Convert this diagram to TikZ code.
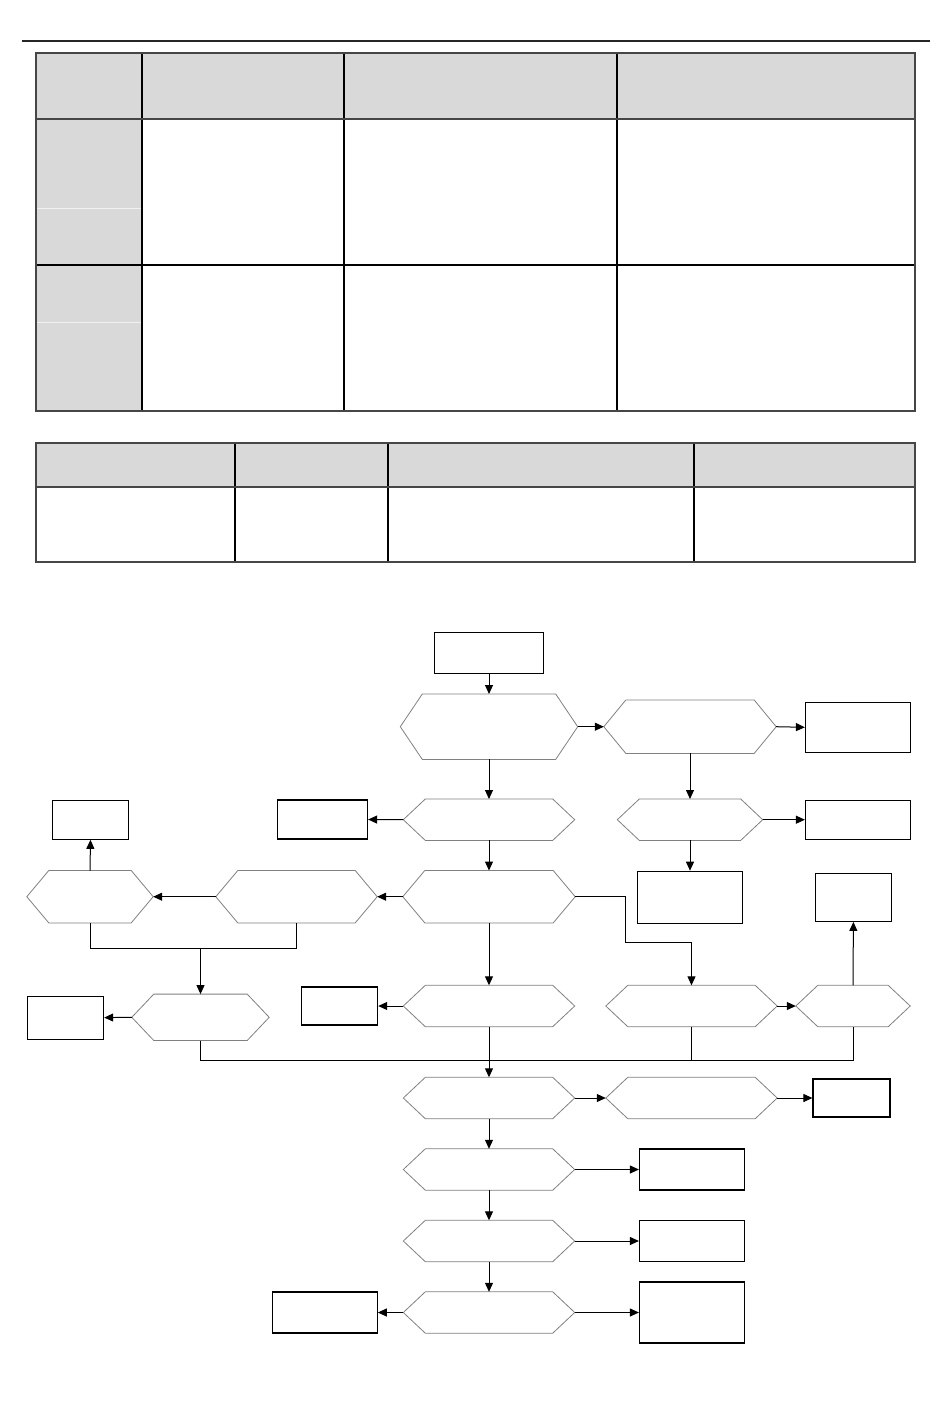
\documentclass[tikz,border=0pt]{standalone}
\usetikzlibrary{arrows.meta}

\definecolor{hdrgray}{RGB}{217,217,217}
\definecolor{hexgray}{RGB}{128,128,128}
\definecolor{rulegray}{RGB}{70,70,70}

\tikzset{
  box/.style={draw, line width=1.2pt, inner sep=0pt},
  hexa/.style={inner sep=0pt},
  hexline/.style={draw=hexgray, line width=0.8pt},
  arr/.style={line width=1pt, -{Triangle[length=9pt,width=8pt]}},
  line/.style={line width=1pt},
}

\begin{document}
\begin{tikzpicture}[x=1pt,y=-1pt]
\useasboundingbox (0,0) rectangle (950,1424);

% top rule
\draw[line width=2.5pt, black!85] (22,41) -- (930,41);

% first table
\fill[hdrgray] (36,53) rectangle (915,119);
\fill[hdrgray] (36,119) rectangle (142,411);
\draw[white!88!gray] (36,208) -- (142,208) (36,322) -- (142,322);
\foreach \x in {142,344,617} \draw[line width=1.5pt] (\x,53) -- (\x,411);
\draw[line width=1.5pt] (36,265) -- (915,265);
\draw[line width=2pt, rulegray] (36,119) -- (915,119);
\draw[line width=2.5pt, rulegray] (36,53) rectangle (915,411);

% second table
\fill[hdrgray] (36,443) rectangle (915,487);
\foreach \x in {235,388,694} \draw[line width=1.5pt] (\x,443) -- (\x,562);
\draw[line width=2pt, rulegray] (36,487) -- (915,487);
\draw[line width=2.5pt, rulegray] (36,443) rectangle (915,562);

% flow chart: decisions
\node[hexa, minimum width=177pt, minimum height=65pt] (h1) at (489,726.7) {};
\node[hexa, minimum width=172pt, minimum height=53pt] (h2) at (690,726.7) {};
\node[hexa, minimum width=171pt, minimum height=41pt] (h3) at (489,819.7) {};
\node[hexa, minimum width=145pt, minimum height=41pt] (h4) at (690,819.7) {};
\node[hexa, minimum width=172pt, minimum height=52pt] (h5) at (489,896.7) {};
\node[hexa, minimum width=161pt, minimum height=52pt] (h6) at (296.5,896.7) {};
\node[hexa, minimum width=126pt, minimum height=52pt] (h7) at (90,896.7) {};
\node[hexa, minimum width=137pt, minimum height=46pt] (h8) at (200.5,1017.3) {};
\node[hexa, minimum width=171pt, minimum height=41pt] (h9) at (489,1006) {};
\node[hexa, minimum width=171pt, minimum height=41pt] (h10) at (691.5,1006) {};
\node[hexa, minimum width=114pt, minimum height=41pt] (h11) at (853,1006) {};
\node[hexa, minimum width=171pt, minimum height=41pt] (h12) at (489,1098) {};
\node[hexa, minimum width=171pt, minimum height=41pt] (h13) at (691.5,1098) {};
\node[hexa, minimum width=171pt, minimum height=41pt] (h14) at (489,1169.5) {};
\node[hexa, minimum width=171pt, minimum height=41pt] (h15) at (489,1241) {};
\node[hexa, minimum width=171pt, minimum height=41pt] (h16) at (489,1312.5) {};
\foreach \i in {1,...,16}
  \draw[hexline] (h\i.west) -- ([xshift=22pt]h\i.north west) -- ([xshift=-22pt]h\i.north east)
    -- (h\i.east) -- ([xshift=-22pt]h\i.south east) -- ([xshift=22pt]h\i.south west) -- cycle;

% flow chart: boxes
\node[box, minimum width=109pt, minimum height=41pt] (b0) at (489,653) {};
\node[box, minimum width=105pt, minimum height=50pt] (b1) at (858,727.3) {};
\node[box, minimum width=90pt, minimum height=39pt] (b2) at (322.5,819.5) {};
\node[box, minimum width=105pt, minimum height=39pt] (b3) at (858,819.7) {};
\node[box, minimum width=105pt, minimum height=52pt] (b4) at (690,897.3) {};
\node[box, minimum width=76pt, minimum height=39pt] (b5) at (90.5,819.7) {};
\node[box, minimum width=76pt, minimum height=48pt] (b6) at (853.4,897.3) {};
\node[box, minimum width=76pt, minimum height=43pt] (b7) at (65.6,1017.6) {};
\node[box, minimum width=76pt, minimum height=38pt] (b8) at (339.6,1006) {};
\node[box, minimum width=77pt, minimum height=38pt] (b9) at (851.5,1098) {};
\node[box, minimum width=105pt, minimum height=41pt] (b10) at (692,1169.5) {};
\node[box, minimum width=105pt, minimum height=41pt] (b11) at (692,1241) {};
\node[box, minimum width=105pt, minimum height=41pt] (b12) at (324.7,1312.5) {};
\node[box, minimum width=105pt, minimum height=61pt] (b13) at (692,1312.5) {};

\coordinate (jn) at (200.5,948.3);
\coordinate (bend) at (625,942.3);
\coordinate (mrg) at (489,1060.3);

% connectors
\draw[arr] (b0) -- (h1);
\draw[arr] (h1.east) -- (h2.west);
\draw[arr] (h2.east) -- (b1.west);
\draw[arr] (h1.south) -- (h3.north);
\draw[arr] (h2.south) -- (h4.north);
\draw[arr] (h4.east) -- (b3.west);
\draw[arr] (h4.south) -- (b4.north);
\draw[arr] (h3.west) -- (b2.east);
\draw[arr] (h3.south) -- (h5.north);
\draw[arr] (h5.west) -- (h6.east);
\draw[arr] (h6.west) -- (h7.east);
\draw[arr] (h7.north) -- (b5.south);
\draw[line] (h7.south) |- (jn) -| (h6.south);
\draw[arr] (jn) -- (h8.north);
\draw[arr] (h8.west) -- (b7.east);
\draw[arr] (h5.south) -- (h9.north);
\draw[arr] (h5.east) -| (bend) -| (h10.north);
\draw[arr] (h9.west) -- (b8.east);
\draw[arr] (h10.east) -- (h11.west);
\draw[arr] (h11.north) -- (b6.south);
\draw[line] (h8.south) |- (mrg) -| (h11.south);
\draw[line] (h10.south) -- (h10.south |- mrg);
\draw[arr] (h9.south) -- (h12.north);
\draw[arr] (h12.east) -- (h13.west);
\draw[arr] (h13.east) -- (b9.west);
\draw[arr] (h12.south) -- (h14.north);
\draw[arr] (h14.east) -- (b10.west);
\draw[arr] (h14.south) -- (h15.north);
\draw[arr] (h15.east) -- (b11.west);
\draw[arr] (h15.south) -- (h16.north);
\draw[arr] (h16.west) -- (b12.east);
\draw[arr] (h16.east) -- (b13.west);

\end{tikzpicture}
\end{document}
